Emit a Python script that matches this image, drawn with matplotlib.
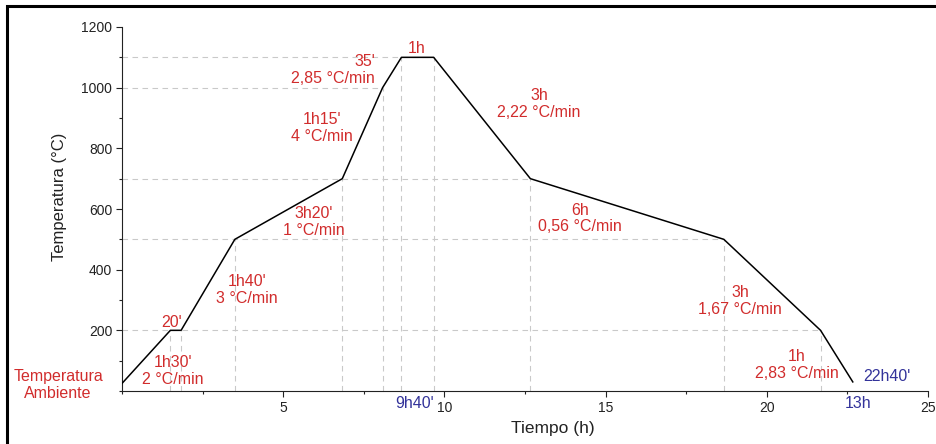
import numpy as np
import matplotlib
matplotlib.use("Agg")
import matplotlib.pyplot as plt
from matplotlib.patches import Rectangle
from matplotlib.ticker import MultipleLocator

# ── Data ─────────────────────────────────────────────────────────────────────

# heating / cooling profile: time [h] and temperature [°C]
TIMES = [0.0, 1.5, 1.833, 3.5, 6.833, 8.083, 8.667, 9.667, 12.667, 18.667, 21.667, 22.667]
TEMPS = [25, 200, 200, 500, 700, 1000, 1100, 1100, 700, 500, 200, 30]

X_TICKS = [5, 10, 15, 20, 25]
Y_TICKS = [200, 400, 600, 800, 1000, 1200]

# segment annotations (text, time, temperature)
SEGMENT_LABELS = [
    ("1h30'\n2 °C/min", 1.57, 65),
    ("20'", 1.55, 227),
    ("1h40'\n3 °C/min", 3.87, 332),
    ("3h20'\n1 °C/min", 5.95, 558),
    ("1h15'\n4 °C/min", 6.20, 868),
    ("1h", 9.13, 1129),
    ("3h\n2,22 °C/min", 12.93, 945),
    ("6h\n0,56 °C/min", 14.21, 569),
    ("3h\n1,67 °C/min", 19.17, 298),
    ("1h\n2,83 °C/min", 20.94, 85),
]

RED = "#d12c2c"
BLUE = "#33339a"
GUIDE = "#c9c9c9"

plt.rcParams["font.family"] = ["Liberation Sans", "DejaVu Sans"]

fig = plt.figure(figsize=(9.37, 4.44), dpi=100)
ax = fig.add_axes([122 / 937, 53 / 444, 806 / 937, 364 / 444])

# ── Guide lines ──────────────────────────────────────────────────────────────

dash = dict(color=GUIDE, lw=0.8, ls=(0, (5, 4)), zorder=1)

for t, T in zip(TIMES[1:-1], TEMPS[1:-1]):
    ax.plot([t, t], [0, T], **dash)

last_time = {}
for t, T in zip(TIMES[1:-1], TEMPS[1:-1]):
    last_time[T] = max(t, last_time.get(T, 0))
for T, t in last_time.items():
    ax.plot([0, t], [T, T], **dash)

# ── Profile ──────────────────────────────────────────────────────────────────

ax.plot(TIMES, TEMPS, color="black", lw=1.1, zorder=3)

# ── Annotations ──────────────────────────────────────────────────────────────

txt = dict(color=RED, fontsize=11.5, ha="center", va="center", linespacing=1.15)
for s, x, y in SEGMENT_LABELS:
    ax.text(x, y, s, **txt)

ax.text(7.85, 1057, "35'\n2,85 °C/min", color=RED, fontsize=11.5,
        ha="right", va="center", multialignment="right", linespacing=1.15)
ax.text(-1.98, 20, "Temperatura\nAmbiente", color=RED, fontsize=11.5,
        ha="center", va="center", linespacing=1.15, clip_on=False)

blue = dict(color=BLUE, fontsize=11.5, ha="center", va="center", clip_on=False)
ax.text(23.73, 48, "22h40'", **blue)
ax.text(9.09, -40, "9h40'", **blue)
ax.text(22.83, -40, "13h", **blue)

# ── Axes styling ─────────────────────────────────────────────────────────────

ax.set_xlim(0, 25)
ax.set_ylim(0, 1200)
ax.set_xticks(X_TICKS)
ax.set_yticks(Y_TICKS)
ax.xaxis.set_minor_locator(MultipleLocator(2.5))
ax.yaxis.set_minor_locator(MultipleLocator(100))

for side in ("top", "right"):
    ax.spines[side].set_visible(False)
for side in ("left", "bottom"):
    ax.spines[side].set_linewidth(0.8)
    ax.spines[side].set_color("#222222")

ax.tick_params(which="major", direction="out", length=4.5, width=0.8,
               labelsize=10, colors="#222222", pad=2.5)
ax.tick_params(which="minor", direction="out", length=2.5, width=0.8,
               colors="#222222")

ax.set_xlabel("Tiempo (h)", fontsize=12.5, color="#222222")
ax.xaxis.set_label_coords(0.535, -0.083)
ax.set_ylabel("Temperatura (°C)", fontsize=12, color="#222222")
ax.yaxis.set_label_coords(-0.068, 0.533)

# black frame round the figure (cut off at right and bottom)
fig.patches.append(Rectangle((6.7 / 937, -0.2), 1.5, 1.2 - 6.2 / 444,
                             transform=fig.transFigure, fill=False,
                             lw=2.2, edgecolor="black"))

fig.savefig("out.png", dpi=100)
